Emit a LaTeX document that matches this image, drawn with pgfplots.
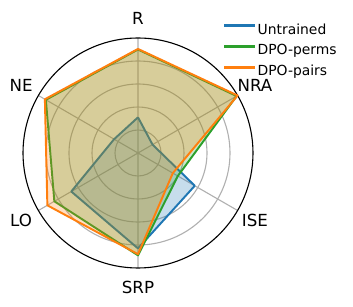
\documentclass[border=0pt]{standalone}
\usepackage{fontspec}
\setmainfont{DejaVu Sans}
\usepackage{pgfplots}
\pgfplotsset{compat=1.18}
\usepgfplotslibrary{polar}
\definecolor{tabblue}{HTML}{1F77B4}
\definecolor{taborange}{HTML}{FF7F0E}
\definecolor{tabgreen}{HTML}{2CA02C}
\definecolor{gridgray}{HTML}{B0B0B0}
\begin{document}
\begin{tikzpicture}
\begin{polaraxis}[
  at={(0,0)}, anchor=center,
  scale only axis, width=165.6pt, height=165.6pt,
  ymin=0, ymax=1,
  xtick={30,90,150,210,270,330},
  xticklabels={},
  ytick={0.2,0.4,0.6,0.8},
  yticklabels={},
  xmajorgrids, ymajorgrids,
  grid style={gridgray, line width=0.8pt},
  major tick length=0pt,
  x axis line style={black, line width=0.8pt},
  y axis line style={draw=none},
  clip=false,
  legend style={draw=none, fill=none, at={(axis description cs:0.856,1.088)}, anchor=north west,
    font=\fontsize{10}{12}\selectfont, row sep=2pt},
  legend cell align=left,
  legend image code/.code={\fill[#1] (0pt,2.3pt) rectangle (21.6pt,3.7pt);},
]
\addplot[forget plot, tabblue, line width=1.4pt, line join=round, fill=tabblue, fill opacity=0.25]
  coordinates {(90,0.31) (30,0.146) (330,0.57) (270,0.83) (210,0.67) (150,0.24) (90,0.31)};
\addplot[forget plot, tabgreen, line width=1.4pt, line join=round, fill=tabgreen, fill opacity=0.25]
  coordinates {(90,0.90) (30,0.99) (330,0.40) (270,0.89) (210,0.84) (150,0.925) (90,0.90)};
\addplot[forget plot, taborange, line width=1.4pt, line join=round, fill=taborange, fill opacity=0.25]
  coordinates {(90,0.905) (30,1.0) (330,0.35) (270,0.88) (210,0.91) (150,0.935) (90,0.905)};
\addlegendimage{tabblue}
\addlegendentry{Untrained}
\addlegendimage{tabgreen}
\addlegendentry{DPO-perms}
\addlegendimage{taborange}
\addlegendentry{DPO-pairs}
\node[font=\fontsize{12}{14}\selectfont] at (axis cs:90,1.174) {R};
\node[font=\fontsize{12}{14}\selectfont] at (axis cs:30,1.174) {NRA};
\node[font=\fontsize{12}{14}\selectfont] at (axis cs:330,1.174) {ISE};
\node[font=\fontsize{12}{14}\selectfont] at (axis cs:270,1.166) {SRP};
\node[font=\fontsize{12}{14}\selectfont] at (axis cs:210,1.174) {LO};
\node[font=\fontsize{12}{14}\selectfont] at (axis cs:150,1.174) {NE};
\end{polaraxis}
\pgfresetboundingbox
\path (-99.36pt,-110.88pt) rectangle (154.8pt,110.16pt);
\end{tikzpicture}
\end{document}
